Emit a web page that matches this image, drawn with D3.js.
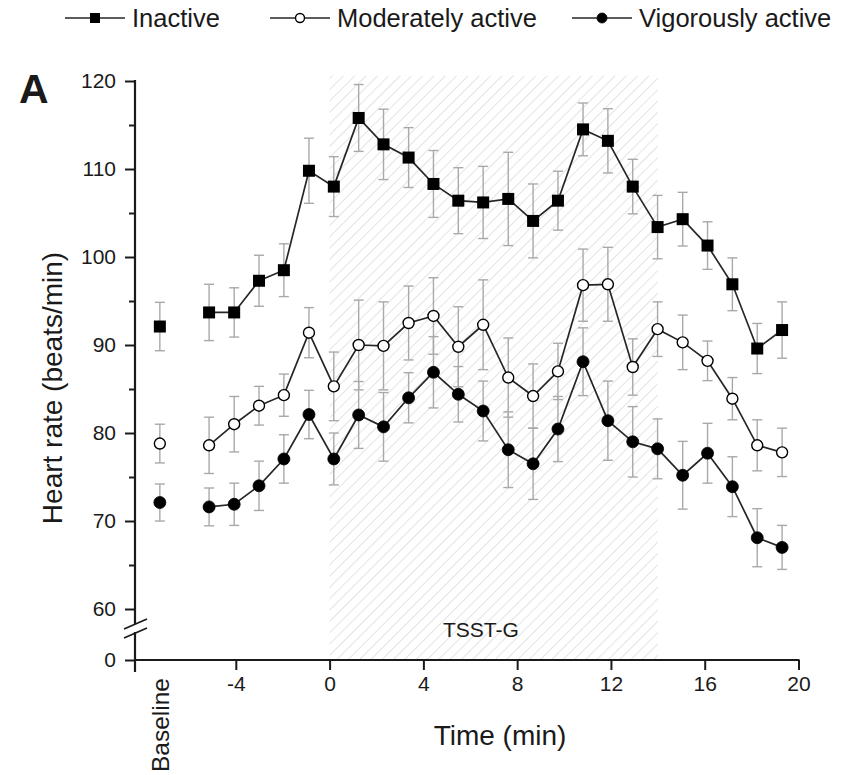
<!DOCTYPE html>
<html>
<head>
<meta charset="utf-8">
<script src="https://cdn.jsdelivr.net/npm/d3@7"></script>
<style>
  body { margin: 0; background: #fff; }
  svg { display: block; }
  text { font-family: "Liberation Sans", Arial, Helvetica, sans-serif; fill: #1a1a1a; }
</style>
</head>
<body>
<svg id="chart" width="859" height="775"></svg>
<script>
// Sampling times (min) of the repeated measurements, plus the baseline sample
const times = [-5.14, -4.07, -3.01, -1.95, -0.88, 0.18, 1.24, 2.30, 3.37, 4.43, 5.49, 6.55,
               7.62, 8.68, 9.74, 10.81, 11.87, 12.93, 13.99, 15.06, 16.12, 17.18, 18.24, 19.30];
const baselineTime = -7.24;

// Mean heart rate (beats/min) and error per group
const inactive    = [93.7, 93.7, 97.3, 98.5, 109.8, 108.0, 115.8, 112.8, 111.3, 108.3, 106.4, 106.2,
                     106.6, 104.1, 106.4, 114.5, 113.2, 108.0, 103.4, 104.3, 101.3, 96.9, 89.6, 91.7];
const inactiveErr = [3.2, 2.8, 2.9, 3.0, 3.7, 3.4, 3.8, 4.0, 3.4, 3.8, 3.75, 4.1,
                     5.3, 4.2, 3.35, 3.0, 3.65, 3.1, 3.6, 3.05, 2.7, 3.0, 2.85, 3.2];
const moderate    = [78.6, 81.0, 83.1, 84.3, 91.4, 85.3, 90.0, 89.9, 92.5, 93.3, 89.8, 92.3,
                     86.3, 84.2, 87.0, 96.8, 96.9, 87.5, 91.8, 90.3, 88.2, 83.9, 78.6, 77.8];
const moderateErr = [3.2, 3.15, 2.2, 2.4, 2.85, 3.9, 5.1, 5.0, 4.2, 4.35, 4.55, 5.1,
                     4.5, 3.65, 3.2, 4.1, 4.2, 3.2, 3.1, 3.1, 2.25, 2.4, 2.9, 2.75];
const vigorous    = [71.6, 71.9, 74.0, 77.05, 82.1, 77.05, 82.05, 80.7, 84.0, 86.9, 84.4, 82.5,
                     78.1, 76.5, 80.45, 88.1, 81.4, 79.0, 78.2, 75.2, 77.7, 73.9, 68.1, 67.0];
const vigorousErr = [2.15, 2.4, 2.8, 2.75, 2.75, 2.95, 3.8, 3.9, 2.85, 4.05, 3.15, 3.4,
                     4.3, 4.05, 3.7, 3.85, 4.5, 4.0, 3.4, 3.85, 3.4, 3.4, 3.3, 2.5];

const baselineMeans = [92.1, 78.8, 72.1];
const baselineErrs  = [2.75, 2.2, 2.1];

const groupNames = ["Inactive", "Moderately active", "Vigorously active"];
const groupMarkers = ["square", "open", "filled"];

// Axis ticks
const xTicks = [-4, 0, 4, 8, 12, 16, 20];
const yMajorTicks = [0, 60, 70, 80, 90, 100, 110, 120];
const yMinorTicks = [65, 75, 85, 95, 105, 115];

// Stress task period (min) and its label
const tsstPeriod = [0, 14];
const tsstTop = 120.6;
const tsstLabel = "TSST-G";
const tsstLabelAt = 6.45;

const svg = d3.select("#chart");

const x = d3.scaleLinear().domain([-8.3, 20]).range([135, 798.5]);
// Broken y axis: 0 sits below the break, 60–120 is the linear part
const y = d3.scaleLinear().domain([0, 60, 120]).range([660, 609, 81]);

const groups = [
  { name: groupNames[0], marker: groupMarkers[0], values: inactive, errs: inactiveErr, base: baselineMeans[0], baseErr: baselineErrs[0] },
  { name: groupNames[1], marker: groupMarkers[1], values: moderate, errs: moderateErr, base: baselineMeans[1], baseErr: baselineErrs[1] },
  { name: groupNames[2], marker: groupMarkers[2], values: vigorous, errs: vigorousErr, base: baselineMeans[2], baseErr: baselineErrs[2] }
];

const fontStack = '"Liberation Sans", Arial, Helvetica, sans-serif';

// Hatched band for the stress task
const defs = svg.append("defs");
defs.append("pattern")
  .attr("id", "hatch")
  .attr("patternUnits", "userSpaceOnUse")
  .attr("width", 8).attr("height", 8)
  .attr("patternTransform", "rotate(45)")
  .append("line")
  .attr("x1", 0).attr("y1", 0).attr("x2", 0).attr("y2", 8)
  .attr("stroke", "#dcdcdc").attr("stroke-width", 1.6);

svg.append("rect")
  .attr("x", x(tsstPeriod[0]))
  .attr("y", y(tsstTop))
  .attr("width", x(tsstPeriod[1]) - x(tsstPeriod[0]))
  .attr("height", y(0) - y(tsstTop))
  .attr("fill", "url(#hatch)");

svg.append("text")
  .attr("x", x(tsstLabelAt))
  .attr("y", 637)
  .attr("text-anchor", "middle")
  .attr("font-size", 21)
  .text(tsstLabel);

// Error bars
const capW = 5;
const errLayer = svg.append("g").attr("stroke", "#a9a9a9").attr("stroke-width", 1.4).attr("fill", "none");
groups.forEach(g => {
  const pts = times.map((t, i) => ({ t, v: g.values[i], e: g.errs[i] }));
  pts.push({ t: baselineTime, v: g.base, e: g.baseErr });
  pts.forEach(p => {
    const cx = x(p.t), hi = y(p.v + p.e), lo = y(p.v - p.e);
    errLayer.append("line").attr("x1", cx).attr("x2", cx).attr("y1", hi).attr("y2", lo);
    errLayer.append("line").attr("x1", cx - capW).attr("x2", cx + capW).attr("y1", hi).attr("y2", hi);
    errLayer.append("line").attr("x1", cx - capW).attr("x2", cx + capW).attr("y1", lo).attr("y2", lo);
  });
});

// Connecting lines
const line = d3.line().x(d => x(d[0])).y(d => y(d[1]));
groups.forEach(g => {
  svg.append("path")
    .datum(times.map((t, i) => [t, g.values[i]]))
    .attr("d", line)
    .attr("fill", "none")
    .attr("stroke", "#262626")
    .attr("stroke-width", 1.7);
});

// Markers
function drawMarker(sel, type, cx, cy, size) {
  if (type === "square") {
    sel.append("rect")
      .attr("x", cx - size / 2).attr("y", cy - size / 2)
      .attr("width", size).attr("height", size)
      .attr("fill", "#000");
  } else {
    sel.append("circle")
      .attr("cx", cx).attr("cy", cy).attr("r", size / 2 - (type === "open" ? 0.5 : 0))
      .attr("fill", type === "open" ? "#fff" : "#000")
      .attr("stroke", "#000").attr("stroke-width", type === "open" ? 1.4 : 0.8);
  }
}
const markLayer = svg.append("g");
groups.forEach(g => {
  times.forEach((t, i) => drawMarker(markLayer, g.marker, x(t), y(g.values[i]), 12));
  drawMarker(markLayer, g.marker, x(baselineTime), y(g.base), 12);
});

// Y axis (major + minor ticks), axis line drawn with a break
const axisColor = "#1a1a1a";
const numFmt = d => String(d);
const yAxis = svg.append("g").attr("transform", `translate(${x.range()[0]},0)`)
  .call(d3.axisLeft(y).tickValues(yMajorTicks).tickSize(10).tickPadding(9).tickFormat(numFmt));
yAxis.select(".domain").remove();
yAxis.selectAll(".tick line").attr("stroke", axisColor).attr("stroke-width", 2);
yAxis.selectAll(".tick text").attr("font-size", 21).style("font-family", fontStack).attr("fill", "#222");

const yMinor = svg.append("g").attr("transform", `translate(${x.range()[0]},0)`)
  .call(d3.axisLeft(y).tickValues(yMinorTicks).tickSize(6).tickFormat(""));
yMinor.select(".domain").remove();
yMinor.selectAll(".tick line").attr("stroke", axisColor).attr("stroke-width", 2);

const ax0 = x.range()[0];
svg.append("line").attr("x1", ax0).attr("x2", ax0).attr("y1", y(120) - 1).attr("y2", 624)
  .attr("stroke", axisColor).attr("stroke-width", 2.2);
svg.append("line").attr("x1", ax0).attr("x2", ax0).attr("y1", 632).attr("y2", 672)
  .attr("stroke", axisColor).attr("stroke-width", 2.2);
// break marks
[[124, 629, 147, 619], [124, 638, 147, 628]].forEach(s => {
  svg.append("line").attr("x1", s[0]).attr("y1", s[1]).attr("x2", s[2]).attr("y2", s[3])
    .attr("stroke", axisColor).attr("stroke-width", 1.8);
});

// X axis
const xAxis = svg.append("g").attr("transform", `translate(0,${y(0)})`)
  .call(d3.axisBottom(x).tickValues(xTicks).tickSize(10).tickPadding(6).tickFormat(numFmt));
xAxis.select(".domain").attr("stroke", axisColor).attr("stroke-width", 2.2)
  .attr("d", `M${ax0},0H${x(20) + 1}`);
xAxis.selectAll(".tick line").attr("stroke", axisColor).attr("stroke-width", 2);
xAxis.selectAll(".tick text").attr("font-size", 21).style("font-family", fontStack).attr("fill", "#222");

// Baseline category label under the baseline sample
svg.append("text")
  .attr("transform", `translate(${x(baselineTime) + 9},678) rotate(-90)`)
  .attr("text-anchor", "end")
  .attr("font-size", 24.5)
  .text("Baseline");

// Axis titles
svg.append("text")
  .attr("transform", "translate(62,388) rotate(-90)")
  .attr("text-anchor", "middle")
  .attr("font-size", 28)
  .text("Heart rate (beats/min)");

svg.append("text")
  .attr("x", 500).attr("y", 745)
  .attr("text-anchor", "middle")
  .attr("font-size", 28)
  .text("Time (min)");

// Panel letter
svg.append("text")
  .attr("x", 19).attr("y", 103)
  .attr("font-size", 41)
  .attr("font-weight", "bold")
  .attr("fill", "#000")
  .text("A");

// Legend
const legendX = [95, 300, 602];
const legend = svg.append("g");
groups.forEach((g, i) => {
  const cx = legendX[i], cy = 18;
  legend.append("line").attr("x1", cx - 30).attr("x2", cx + 30).attr("y1", cy).attr("y2", cy)
    .attr("stroke", "#262626").attr("stroke-width", 1.7);
  drawMarker(legend, g.marker, cx, cy, 10);
  legend.append("text").attr("x", cx + 37).attr("y", cy + 9)
    .attr("font-size", 25.5)
    .text(g.name);
});
</script>
</body>
</html>
